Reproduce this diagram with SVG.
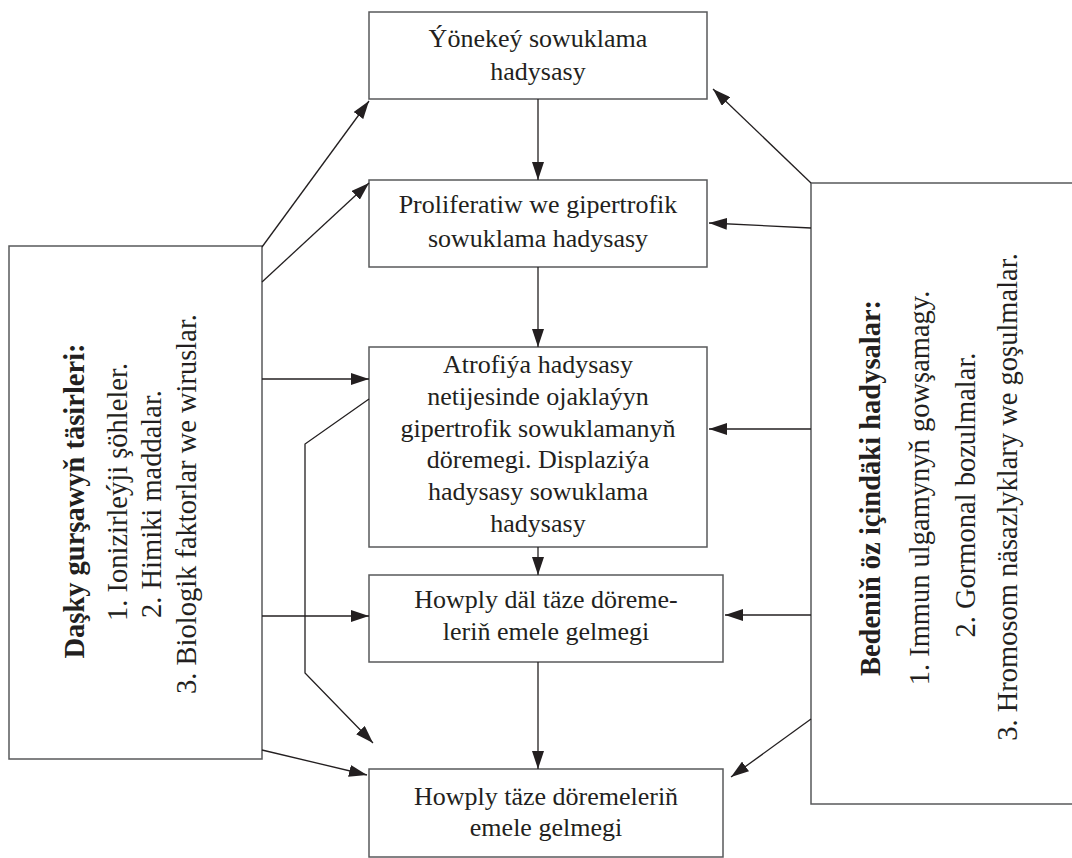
<svg xmlns="http://www.w3.org/2000/svg" width="1072" height="858" viewBox="0 0 1072 858">
<defs>
<style>
.box{fill:#fff;stroke:#58595b;stroke-width:1.5}
.t{font-family:"Liberation Serif","Times New Roman",serif;font-size:26px;fill:#231f20;text-anchor:middle}
.s{font-family:"Liberation Serif","Times New Roman",serif;font-size:28.5px;fill:#231f20;text-anchor:middle}
.b{font-weight:bold}
.c{fill:none;stroke:#231f20;stroke-width:1.3}
</style>
<marker id="ah" viewBox="0 0 18 12" refX="18" refY="6" markerWidth="18" markerHeight="12" markerUnits="userSpaceOnUse" orient="auto">
<path d="M0,0 L18,6 L0,12 z" fill="#231f20"/>
</marker>
</defs>
<rect width="1072" height="858" fill="#fff"/>
<g id="n1"><rect class="box" x="369" y="12" width="338" height="87"/>
<text class="t" x="538" y="47">Ýönekeý sowuklama</text><text class="t" x="538" y="80">hadysasy</text></g>
<g id="n2"><rect class="box" x="369" y="180" width="338" height="87"/>
<text class="t" x="538" y="213">Proliferatiw we gipertrofik</text><text class="t" x="538" y="247">sowuklama hadysasy</text></g>
<g id="n3"><rect class="box" x="369" y="347" width="338" height="200"/>
<text class="t" x="538" y="373">Atrofiýa hadysasy</text>
<text class="t" x="538" y="405">netijesinde ojaklaýyn</text>
<text class="t" x="538" y="437">gipertrofik sowuklamanyň</text>
<text class="t" x="538" y="468">döremegi. Displaziýa</text>
<text class="t" x="538" y="500">hadysasy sowuklama</text>
<text class="t" x="538" y="532">hadysasy</text></g>
<g id="n4"><rect class="box" x="369" y="575" width="354" height="87"/>
<text class="t" x="546" y="608">Howply däl täze döreme-</text><text class="t" x="546" y="640">leriň emele gelmegi</text></g>
<g id="n5"><rect class="box" x="369" y="769" width="354" height="88"/>
<text class="t" x="546" y="805">Howply täze döremeleriň</text><text class="t" x="546" y="836">emele gelmegi</text></g>
<g id="left"><rect class="box" x="9" y="246" width="253" height="513"/>
<text class="s b" transform="translate(84,501) rotate(-90)">Daşky gurşawyň täsirleri:</text>
<text class="s" transform="translate(127,492) rotate(-90)">1. Ionizirleýji şöhleler.</text>
<text class="s" transform="translate(161,504) rotate(-90)">2. Himiki maddalar.</text>
<text class="s" transform="translate(196,504) rotate(-90)">3. Biologik faktorlar we wiruslar.</text></g>
<g id="right"><rect class="box" x="811" y="183" width="300" height="621"/>
<text class="s b" transform="translate(880,488) rotate(-90)">Bedeniň öz içindäki hadysalar:</text>
<text class="s" transform="translate(929,488) rotate(-90)">1. Immun ulgamynyň gowşamagy.</text>
<text class="s" transform="translate(975,495) rotate(-90)">2. Gormonal bozulmalar.</text>
<text class="s" transform="translate(1017,497) rotate(-90)">3. Hromosom näsazlyklary we goşulmalar.</text></g>
<g id="connectors">
<path class="c" marker-end="url(#ah)" d="M538,99 L538,180"/>
<path class="c" marker-end="url(#ah)" d="M538,267 L538,347"/>
<path class="c" marker-end="url(#ah)" d="M538,547 L538,575"/>
<path class="c" marker-end="url(#ah)" d="M538,662 L538,769"/>
<path class="c" marker-end="url(#ah)" d="M262,247 L369,101"/>
<path class="c" marker-end="url(#ah)" d="M262,282 L369,183"/>
<path class="c" marker-end="url(#ah)" d="M262,379 L369,379"/>
<path class="c" marker-end="url(#ah)" d="M262,616 L369,616"/>
<path class="c" marker-end="url(#ah)" d="M369,399 L305,444 L305,673 L373,743"/>
<path class="c" marker-end="url(#ah)" d="M262,750 L367,775"/>
<path class="c" marker-end="url(#ah)" d="M811,183 L713,89"/>
<path class="c" marker-end="url(#ah)" d="M811,228 L709,223"/>
<path class="c" marker-end="url(#ah)" d="M811,429 L709,429"/>
<path class="c" marker-end="url(#ah)" d="M811,615 L725,615"/>
<path class="c" marker-end="url(#ah)" d="M811,719 L731,777"/>
</g>
</svg>
